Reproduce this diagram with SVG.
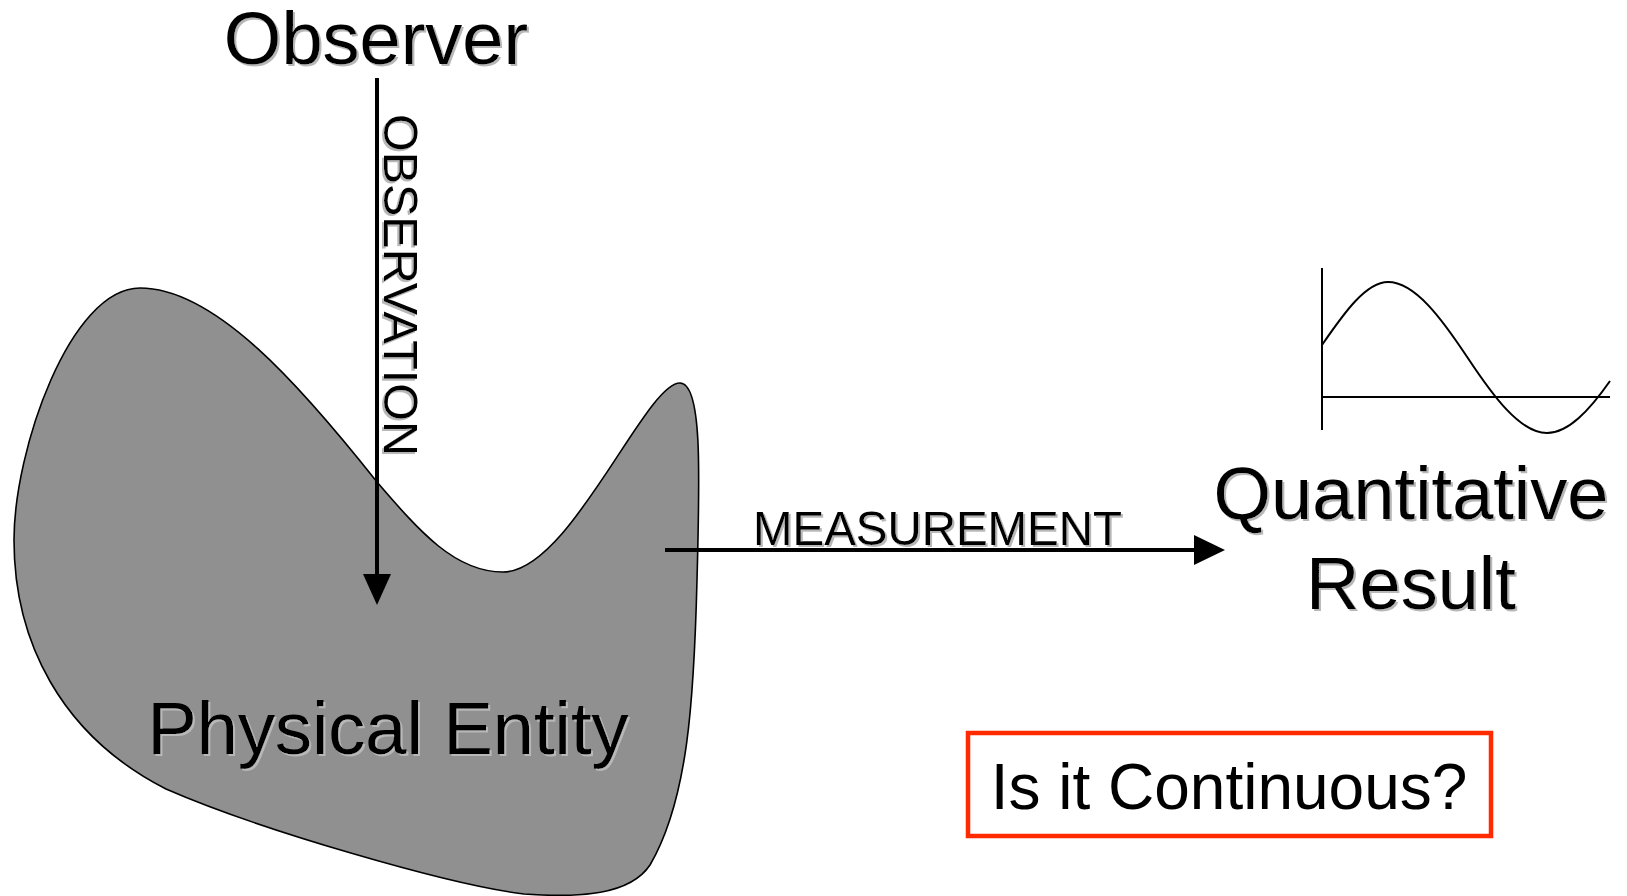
<svg xmlns="http://www.w3.org/2000/svg" width="1627" height="896" viewBox="0 0 1627 896">
<defs>
<style>
.t{font-family:"Liberation Sans",Arial,sans-serif;fill:#000}
.sh{filter:url(#shadow)}
.ln{stroke:#000;stroke-width:4;fill:none}
.thin{stroke:#000;stroke-width:2;fill:none}
</style>
<filter id="shadow" x="-10%" y="-10%" width="120%" height="130%">
<feDropShadow dx="2" dy="2" stdDeviation="0.4" flood-color="#b8b8b8" flood-opacity="1"/>
</filter>
</defs>
<rect width="1627" height="896" fill="#fff"/>

<g id="physical-entity">
<path d="M 140 288 C 215 288 300 385 377 482 C 420 532 455 572 503 572 C 570 572 645 383 680 383 C 702 383 700 470 697 580 C 694 700 688 800 650 865 C 630 895 580 898 524 894 C 450 885 260 830 166 789 C 60 735 14 640 14 540 C 14 450 70 288 140 288 Z" fill="#909090" stroke="#000" stroke-width="1.6"/>
<text class="t sh" x="388" y="754" font-size="74" text-anchor="middle">Physical Entity</text>
</g>

<g id="observer">
<text class="t sh" x="376" y="64" font-size="74" text-anchor="middle">Observer</text>
</g>

<g id="quantitative-result">
<text class="t sh" x="1411" y="519" font-size="74" text-anchor="middle">Quantitative</text>
<text class="t sh" x="1411" y="609" font-size="74" text-anchor="middle">Result</text>
<path class="thin" d="M1322 268 V430 M1322 397 H1610"/>
<path class="thin" d="M1322 345 C1344 313 1366 282 1388 282 C1415 282 1442 319 1467.5 357.5 C1493 396 1520 433 1547 433 C1568 433 1589 411 1610 381"/>
</g>

<g id="continuous-box">
<rect x="968" y="733" width="523" height="103" fill="#fff" stroke="#ff2a00" stroke-width="4.5"/>
<text class="t" x="1229" y="809" font-size="64" text-anchor="middle">Is it Continuous?</text>
</g>

<g id="connectors">
<g id="observation">
<line x1="377" y1="78" x2="377" y2="580" class="ln"/>
<path d="M363 574 L391 574 L377 605 Z" fill="#000"/>
<text class="t sh" font-size="48.5" textLength="342" lengthAdjust="spacingAndGlyphs" transform="translate(384 114) rotate(90)">OBSERVATION</text>
</g>
<g id="measurement">
<line x1="665" y1="550" x2="1200" y2="550" class="ln"/>
<path d="M1194 535 L1225 550 L1194 565 Z" fill="#000"/>
<text class="t sh" x="753" y="545" font-size="47.5" textLength="369" lengthAdjust="spacingAndGlyphs">MEASUREMENT</text>
</g>
</g>
</svg>
